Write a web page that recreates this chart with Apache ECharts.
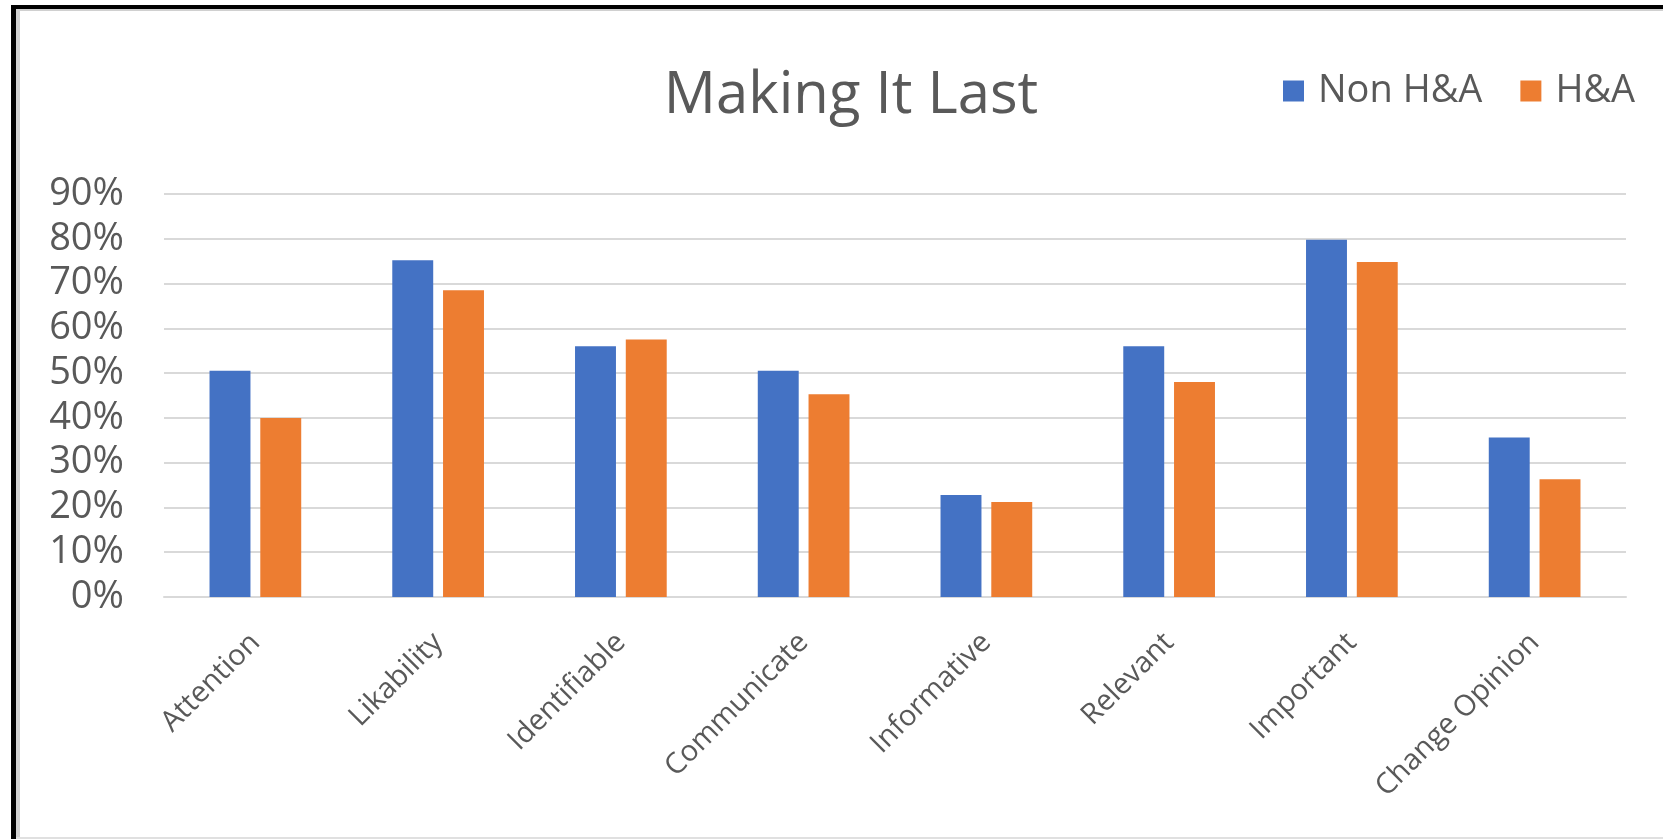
<!DOCTYPE html>
<html>
<head>
<meta charset="utf-8">
<script src="https://cdn.jsdelivr.net/npm/echarts@6/dist/echarts.min.js"></script>
<style>
html,body{margin:0;padding:0;background:#fff;}
#c{width:1663px;height:839px;}
</style>
</head>
<body>
<div id="c"></div>
<script>
const categories = ["Attention","Likability","Identifiable","Communicate","Informative","Relevant","Important","Change Opinion"];
const nonHA = [0.505, 0.752, 0.56, 0.505, 0.228, 0.56, 0.798, 0.356];
const ha = [0.40, 0.685, 0.575, 0.453, 0.212, 0.48, 0.748, 0.263];
const seriesNames = ["Non H&A", "H&A"];
const yTicks = [0, 0.1, 0.2, 0.3, 0.4, 0.5, 0.6, 0.7, 0.8, 0.9];

const FONT = "Open Sans";
const TXT = "#595959";
const chart = echarts.init(document.getElementById('c'), null, {renderer:'canvas'});
chart.setOption({
  animation:false,
  backgroundColor:'#fff',
  title:{
    text:'Making It Last',
    left:846, top:62, textAlign:'center',
    textStyle:{fontFamily:FONT,fontSize:58,fontWeight:'normal',color:TXT}
  },
  legend:{
    data:seriesNames,
    left:1278, top:67,
    itemWidth:21, itemHeight:21, itemGap:38,
    icon:'rect',
    textStyle:{fontFamily:FONT,fontSize:38,color:TXT,padding:[0,0,0,9]}
  },
  grid:{left:164,right:37,top:194,bottom:242,containLabel:false},
  xAxis:{
    type:'category',
    data:categories,
    axisLine:{show:true,lineStyle:{color:'#D9D9D9',width:2}},
    axisTick:{show:false},
    axisLabel:{rotate:45,fontFamily:FONT,fontSize:29,color:TXT,margin:41,interval:0}
  },
  yAxis:{
    type:'value',
    min:yTicks[0], max:yTicks[yTicks.length-1], interval:0.1,
    axisLine:{show:false},
    axisTick:{show:false},
    splitLine:{lineStyle:{color:'#D9D9D9',width:2}},
    axisLabel:{fontFamily:FONT,fontSize:38,color:TXT,margin:40,
      formatter:v=>Math.round(v*100)+'%'}
  },
  series:[
    {name:seriesNames[0],type:'bar',data:nonHA,itemStyle:{color:'#4472C4'},barWidth:'22.4%',barGap:'24%'},
    {name:seriesNames[1],type:'bar',data:ha,itemStyle:{color:'#ED7D31'},barWidth:'22.4%',barGap:'24%'}
  ],
  graphic:[
    {type:'rect',shape:{x:11,y:5,width:5,height:834},style:{fill:'#000'}},
    {type:'rect',shape:{x:11,y:5,width:1652,height:4},style:{fill:'#000'}},
    {type:'rect',shape:{x:16,y:9,width:4,height:830},style:{fill:'#D0D0D0'}},
    {type:'rect',shape:{x:16,y:9,width:1647,height:2},style:{fill:'#D0D0D0'}},
    {type:'rect',shape:{x:16,y:837,width:1647,height:2},style:{fill:'#E0E0E0'}}
  ]
});
</script>
</body>
</html>
